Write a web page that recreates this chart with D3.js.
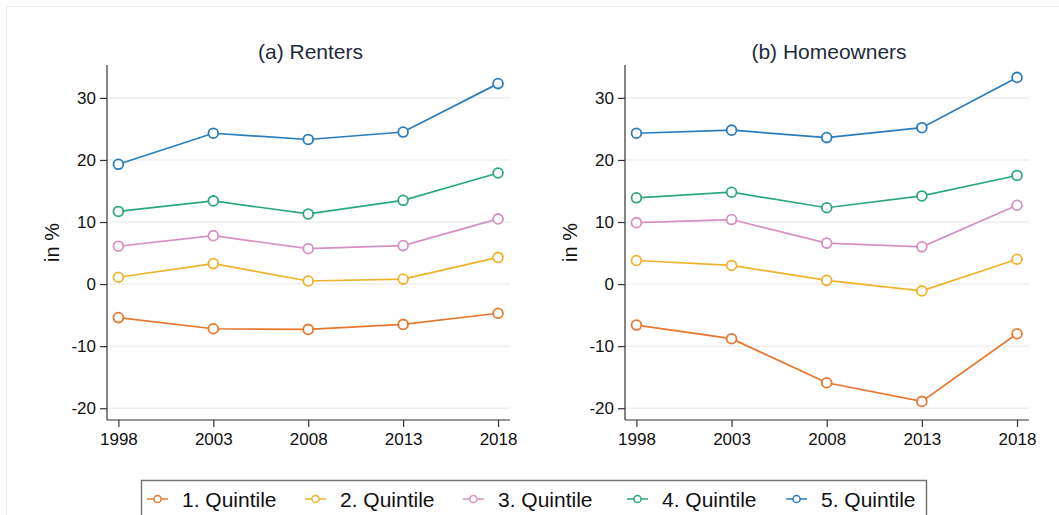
<!DOCTYPE html>
<html>
<head>
<meta charset="utf-8">
<script src="https://cdn.jsdelivr.net/npm/d3@7"></script>
<style>
  body { margin: 0; background: #fff; }
  svg { display: block; font-family: "Liberation Sans", Arial, sans-serif; }
</style>
</head>
<body>
<div class="canvas"></div>
<script>
const years = [1998, 2003, 2008, 2013, 2018];
const yTicks = [-20, -10, 0, 10, 20, 30];
const quintiles = ['1. Quintile', '2. Quintile', '3. Quintile', '4. Quintile', '5. Quintile'];
const colors = ['#e8772e', '#f0b22a', '#d690c2', '#2ba781', '#2a7cbb'];

// renters, one array per quintile
const renters = [
  [-5.4, -7.2, -7.3, -6.5, -4.7],
  [1.1, 3.3, 0.5, 0.8, 4.3],
  [6.1, 7.8, 5.7, 6.2, 10.5],
  [11.7, 13.4, 11.3, 13.5, 17.9],
  [19.3, 24.3, 23.3, 24.5, 32.3]
];

// homeowners
const owners = [
  [-6.6, -8.8, -15.9, -18.9, -8.0],
  [3.8, 3.0, 0.6, -1.1, 4.0],
  [9.9, 10.4, 6.6, 6.0, 12.7],
  [13.9, 14.8, 12.3, 14.2, 17.5],
  [24.3, 24.8, 23.6, 25.2, 33.3]
];

const titles = ['(a) Renters', '(b) Homeowners'];

const svg = d3.select('.canvas')
  .append('svg')
  .attr('width', 1059)
  .attr('height', 515);

// faint outer frame
svg.append('rect')
  .attr('x', 6.5).attr('y', 6.5)
  .attr('width', 1100).attr('height', 600)
  .attr('fill', 'none')
  .attr('stroke', '#eeeeee');

const plotTop = 65, plotBottom = 420;
const panels = [
  { left: 107, right: 510, data: renters, title: titles[0], ylab: 52 },
  { left: 625, right: 1029, data: owners, title: titles[1], ylab: 570 }
];

const y = d3.scaleLinear().domain([-21.9, 35.3]).range([plotBottom, plotTop]);

panels.forEach(p => {
  const x = d3.scaleLinear().domain([1997.4, 2018.63]).range([p.left, p.right]);
  const g = svg.append('g');

  // gridlines
  g.selectAll('.grid')
    .data(yTicks)
    .enter()
    .append('line')
    .attr('x1', p.left + 1).attr('x2', p.right)
    .attr('y1', d => y(d)).attr('y2', d => y(d))
    .attr('stroke', '#efefef')
    .attr('stroke-width', 1.5);

  // axes (plain hyphen for negatives, like the original)
  const yAxis = g.append('g')
    .attr('transform', `translate(${p.left},0)`)
    .call(d3.axisLeft(y).tickValues(yTicks).tickFormat(d => String(d)).tickSize(7).tickPadding(4));
  const xAxis = g.append('g')
    .attr('transform', `translate(0,${plotBottom})`)
    .call(d3.axisBottom(x).tickValues(years).tickFormat(d => String(d)).tickSize(7).tickPadding(6));

  [yAxis, xAxis].forEach(a => {
    a.select('.domain').attr('stroke', '#333').attr('stroke-width', 1.2);
    a.selectAll('.tick line').attr('stroke', '#333').attr('stroke-width', 1.2);
    a.selectAll('.tick text')
      .attr('fill', '#111')
      .style('font-size', '17px')
      .style('font-family', '"Liberation Sans", Arial, sans-serif');
  });
  yAxis.select('.domain').attr('d', `M-0,${plotBottom}V${plotTop}`);
  xAxis.select('.domain').attr('d', `M${p.left},0H${p.right}`);

  // title
  svg.append('text')
    .attr('x', (p.left + p.right) / 2 + 2)
    .attr('y', 59)
    .attr('text-anchor', 'middle')
    .attr('fill', '#1e2b3c')
    .style('font-size', '21px')
    .text(p.title);

  // y label
  svg.append('text')
    .attr('transform', `translate(${p.ylab + 7},${(plotTop + plotBottom) / 2}) rotate(-90)`)
    .attr('text-anchor', 'middle')
    .attr('fill', '#111')
    .style('font-size', '20px')
    .text('in %');

  const line = d3.line()
    .x((d, i) => x(years[i]))
    .y(d => y(d));

  p.data.forEach((series, k) => {
    g.append('path')
      .datum(series)
      .attr('d', line)
      .attr('fill', 'none')
      .attr('stroke', colors[k])
      .attr('stroke-width', 1.7);
    g.selectAll(`.m${k}`)
      .data(series)
      .enter()
      .append('circle')
      .attr('cx', (d, i) => x(years[i]))
      .attr('cy', d => y(d))
      .attr('r', 4.9)
      .attr('fill', 'white')
      .attr('stroke', colors[k])
      .attr('stroke-width', 1.8);
  });
});

// legend
const legend = svg.append('g');
legend.append('rect')
  .attr('x', 141.5).attr('y', 480.5)
  .attr('width', 785).attr('height', 60)
  .attr('fill', 'white')
  .attr('stroke', '#777')
  .attr('stroke-width', 1.5);

const legendX = [147, 305, 463, 627, 786];
const items = legend.selectAll('.item')
  .data(quintiles)
  .enter()
  .append('g')
  .attr('transform', (d, i) => `translate(${legendX[i]},499)`);

items.append('line')
  .attr('x1', 0).attr('x2', 21)
  .attr('stroke', (d, i) => colors[i])
  .attr('stroke-width', 1.5);
items.append('circle')
  .attr('cx', 10.5).attr('r', 3.6)
  .attr('fill', 'white')
  .attr('stroke', (d, i) => colors[i])
  .attr('stroke-width', 1.5);
items.append('text')
  .attr('x', 35)
  .attr('y', 7.5)
  .attr('fill', '#111')
  .style('font-size', '21px')
  .text(d => d);
</script>
</body>
</html>
